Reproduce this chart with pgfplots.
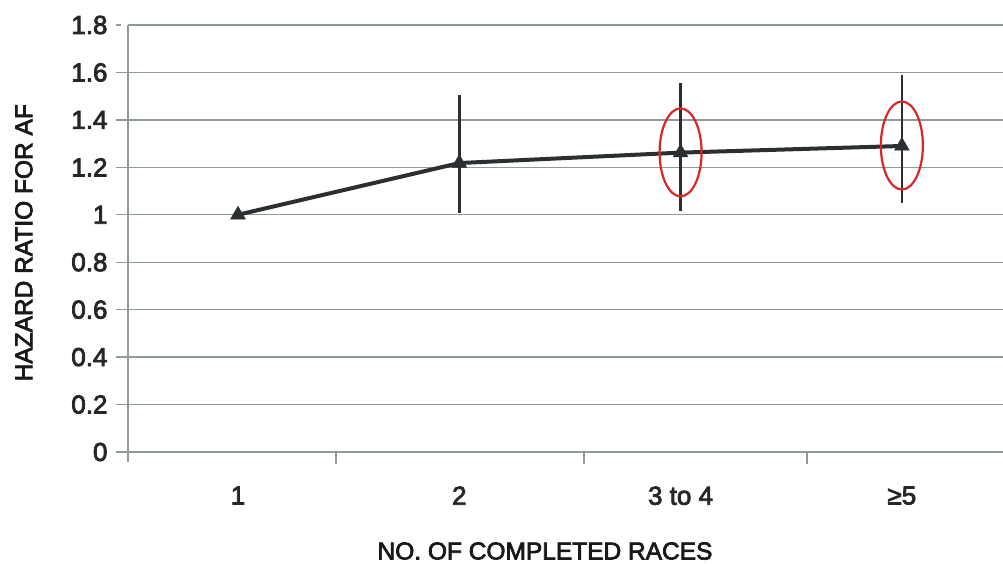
\documentclass[border=0pt]{standalone}
\usepackage{fontspec}
\setmainfont{Liberation Sans}
\newfontfamily\semib{Liberation Sans}[FakeBold=3]
\usepackage{pgfplots}
\pgfplotsset{compat=1.18}
\definecolor{gridc}{HTML}{8E9999}
\definecolor{linec}{HTML}{2B2F31}
\definecolor{ellc}{HTML}{D62828}
\begin{document}
\begin{tikzpicture}
\begin{axis}[
  at={(0pt,0pt)}, anchor=south west,
  scale only axis, width=875pt, height=427pt,
  xmin=0.503, xmax=4.457, ymin=0, ymax=1.8,
  axis lines*=left,
  axis line style={gridc, line width=1.5pt},
  ytick={0,0.2,0.4,0.6,0.8,1,1.2,1.4,1.6,1.8},
  yticklabels={0,0.2,0.4,0.6,0.8,1,1.2,1.4,1.6,1.8},
  ymajorgrids,
  major grid style={gridc, line width=1.3pt},
  tick align=outside,
  major tick length=12pt,
  tick style={gridc, line width=1.3pt},
  y tick style={shorten >=7pt},
  xtick={1.443,2.563,3.571},
  xticklabels={},
  extra x ticks={1,2,3,4},
  extra x tick labels={1,2,3 to 4,≥5},
  extra x tick style={tick style={draw=none}, grid=none},
  tick label style={font=\semib\fontsize{26}{30}\selectfont, text=black!85},
  /pgf/number format/assume math mode=true,
  yticklabel style={xshift=-5pt},
  xticklabel style={yshift=-19pt},
  xlabel={NO. OF COMPLETED RACES},
  ylabel={HAZARD RATIO FOR AF},
  label style={font=\semib\fontsize{24.5}{28}\selectfont, text=black!90},
  xlabel style={at={(axis description cs:0.4766,-0.232)}, anchor=center},
  ylabel style={at={(axis description cs:-0.119,0.49)}, anchor=center},
  clip=false,
]
\draw[gridc, line width=1.5pt] (axis cs:0.503,0) -- ++(0pt,-10pt);
\addplot[linec, line width=4pt,
  mark=triangle*, mark size=8.5pt, mark options={solid, line width=0.5pt, fill=linec},
  error bars/.cd, y dir=both, y explicit, error mark=none,
  error bar style={linec, line width=2.6pt}]
  table[x=x, y=y, y error plus=ep, y error minus=em] {
x y ep em
1 1.000 0 0
2 1.218 0.287 0.210
3 1.262 0.295 0.246
4 1.290 0.299 0.240
};
\draw[ellc, line width=2.2pt] (axis cs:3,1.263) ellipse [x radius=21pt, y radius=44pt];
\draw[ellc, line width=2.2pt] (axis cs:4,1.292) ellipse [x radius=21pt, y radius=44pt];
\end{axis}
\pgfresetboundingbox
\path (-128pt,-112pt) rectangle (875pt,452pt);
\end{tikzpicture}
\end{document}
